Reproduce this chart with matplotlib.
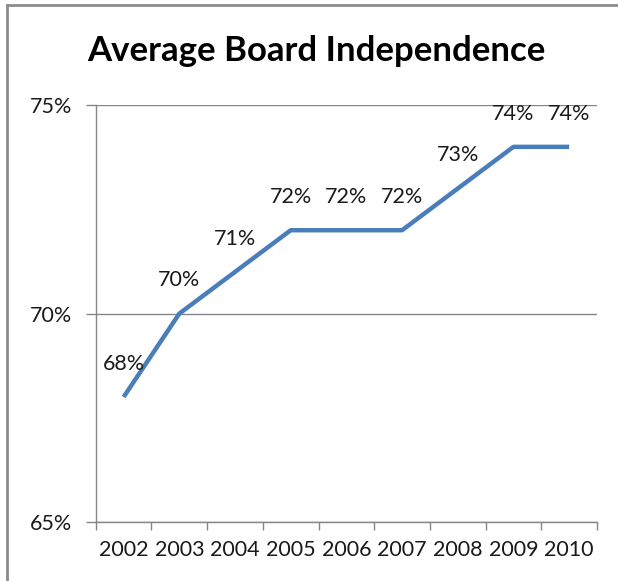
import matplotlib
matplotlib.use("Agg")
import matplotlib.pyplot as plt
from matplotlib.lines import Line2D
import numpy as np

years = ["2002", "2003", "2004", "2005", "2006", "2007", "2008", "2009", "2010"]
independence = [68, 70, 71, 72, 72, 72, 73, 74, 74]
y_ticks = [65, 70, 75]

plt.rcParams['font.family'] = ['Lato', 'DejaVu Sans']
label_size = 15.5

fig = plt.figure(figsize=(6.18, 5.81), dpi=100)
ax = fig.add_axes([0.155, 0.1015, 0.811, 0.7175])

x = np.arange(len(years))
ax.plot(x, independence, color='#4a7ebb', linewidth=3.2, solid_capstyle='butt', zorder=3)

# data labels above each point
for xi, v in zip(x, independence):
    ax.annotate("%d%%" % v, (xi, v), xytext=(0, 24), textcoords='offset points',
                ha='center', va='center', fontsize=label_size, color='#1a1a1a')

ax.set_xlim(-0.5, len(years) - 0.5)
ax.set_ylim(65, 75)

# ticks between categories, labels on the categories
ax.set_xticks(np.arange(-0.5, len(years), 1.0))
ax.set_xticklabels([])
ax.set_xticks(x, minor=True)
ax.set_xticklabels(years, minor=True, fontsize=label_size, color='#1a1a1a')
ax.tick_params(axis='x', which='major', length=6, color='#868686', width=1)
ax.tick_params(axis='x', which='minor', length=0, pad=13)

ax.set_yticks(y_ticks)
ax.set_yticklabels(["%d%%" % t for t in y_ticks], fontsize=label_size, color='#1a1a1a')
ax.tick_params(axis='y', length=7, color='#868686', width=1, pad=10)

ax.grid(axis='y', color='#868686', linewidth=1)
ax.set_axisbelow(True)
for s in ['top', 'right']:
    ax.spines[s].set_visible(False)
for s in ['left', 'bottom']:
    ax.spines[s].set_color('#868686')
    ax.spines[s].set_linewidth(1)

fig.text(0.512, 0.913, "Average Board Independence", ha='center', va='center',
         fontsize=25, fontweight='bold', color='black')

# outer chart frame (only left and top edges visible in the crop)
fig.add_artist(Line2D([0.012, 0.012], [0, 0.991], transform=fig.transFigure, color='#8c8c8c', linewidth=2))
fig.add_artist(Line2D([0.012, 1.0], [0.991, 0.991], transform=fig.transFigure, color='#8c8c8c', linewidth=2))

fig.savefig("out.png", dpi=100)
